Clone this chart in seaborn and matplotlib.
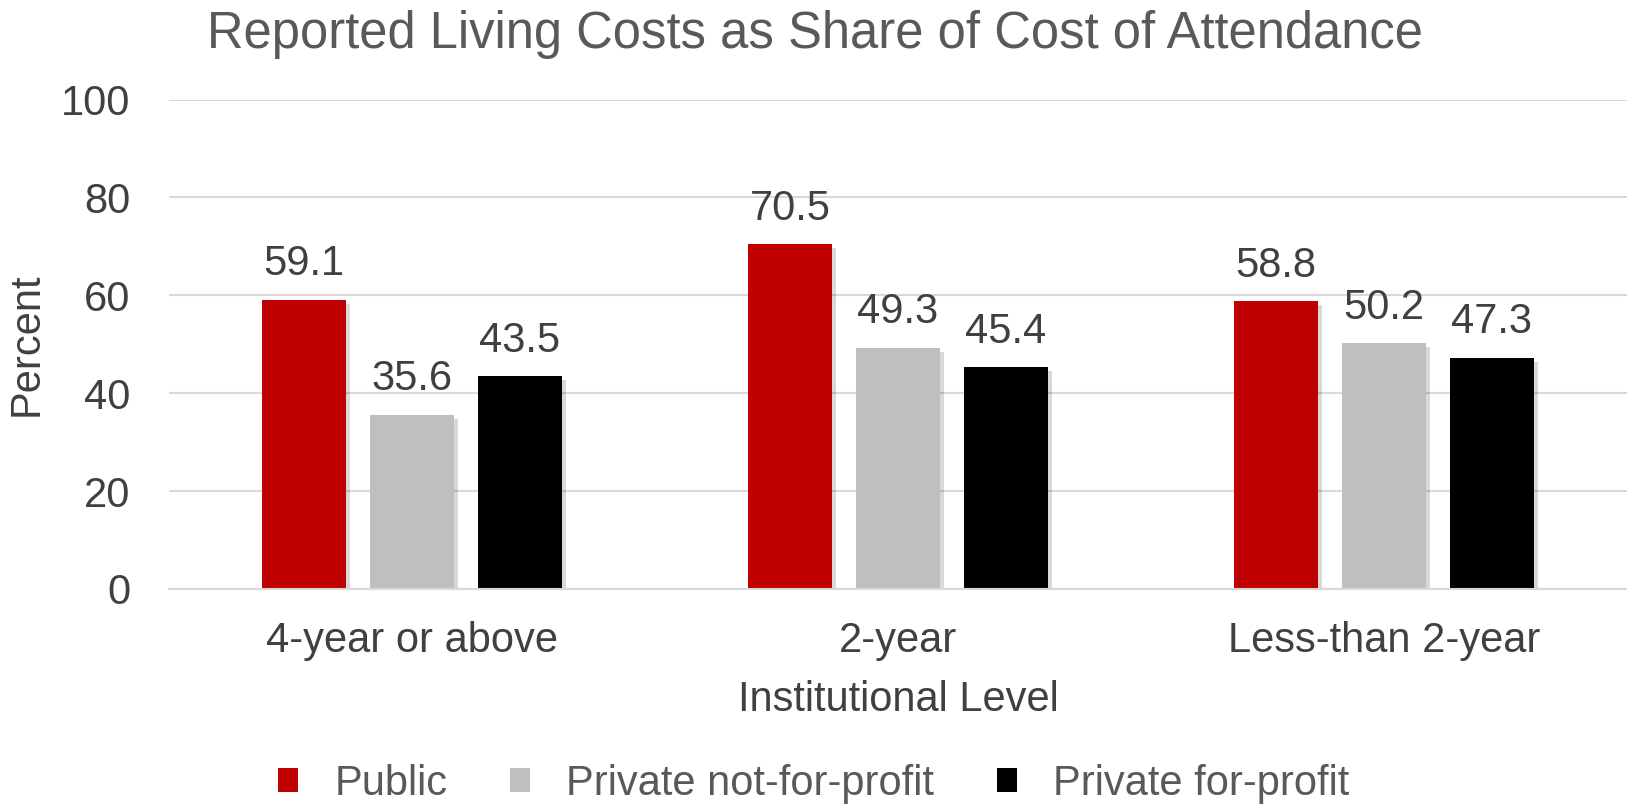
import matplotlib
matplotlib.use("Agg")
import matplotlib.pyplot as plt
import matplotlib.patheffects as pe
from matplotlib.patches import Patch
import pandas as pd
import seaborn as sns

levels = ["4-year or above", "2-year", "Less-than 2-year"]
sectors = ["Public", "Private not-for-profit", "Private for-profit"]
public = [59.1, 70.5, 58.8]
private_nfp = [35.6, 49.3, 50.2]
private_fp = [43.5, 45.4, 47.3]
yticks = [0, 20, 40, 60, 80, 100]

colours = ["#C00000", "#BFBFBF", "#000000"]
text_col = "#404040"

df = pd.DataFrame({
    "level": levels * 3,
    "sector": [s for s in sectors for _ in levels],
    "value": public + private_nfp + private_fp,
})

sns.set_style("white")
plt.rcParams["font.family"] = ["Liberation Sans", "DejaVu Sans"]

fig = plt.figure(figsize=(16.27, 8.08), dpi=100)
ax = fig.add_axes([169 / 1627, 1 - 589 / 808, 1 - 169 / 1627, (589 - 99.6) / 808])

sns.barplot(
    data=df, x="level", y="value", hue="sector",
    order=levels, hue_order=sectors, palette=colours,
    width=0.666, gap=0.22, saturation=1, legend=False, ax=ax,
)

# soft drop shadow like the original office chart
shadow = [pe.SimplePatchShadow(offset=(3, -3), shadow_rgbFace="#000000", alpha=0.15), pe.Normal()]
for patch in ax.patches:
    patch.set_path_effects(shadow)
    patch.set_edgecolor("none")

for container in ax.containers:
    ax.bar_label(container, fmt="%.1f", padding=11, fontsize=30, color=text_col)

ax.set_xlim(-0.5, 2.5)
ax.set_ylim(0, 100)
ax.set_yticks(yticks)
ax.yaxis.grid(True, color="#D9D9D9", linewidth=1.5)
ax.set_axisbelow(True)
for side in ["top", "right", "left"]:
    ax.spines[side].set_visible(False)
ax.spines["bottom"].set_color("#D9D9D9")
ax.spines["bottom"].set_linewidth(1.5)
ax.tick_params(axis="both", length=0, labelsize=30, labelcolor=text_col)
ax.tick_params(axis="x", pad=23)
ax.tick_params(axis="y", pad=28)

ax.set_xlabel("Institutional Level", fontsize=30, color=text_col, labelpad=14)
ax.set_ylabel("Percent", fontsize=30, color=text_col, labelpad=10)
fig.text(0.501, 0.957, "Reported Living Costs as Share of Cost of Attendance",
         ha="center", va="center", fontsize=36.5, color="#595959")

handles = [Patch(facecolor=c, edgecolor="none") for c in colours]
fig.legend(handles, sectors, loc="center", bbox_to_anchor=(0.5, 0.03), ncol=3,
           frameon=False, fontsize=30, labelcolor="#595959", handlelength=0.48,
           handleheight=0.48, handletextpad=0.87, columnspacing=1.5)

fig.savefig("out.png", dpi=100)
